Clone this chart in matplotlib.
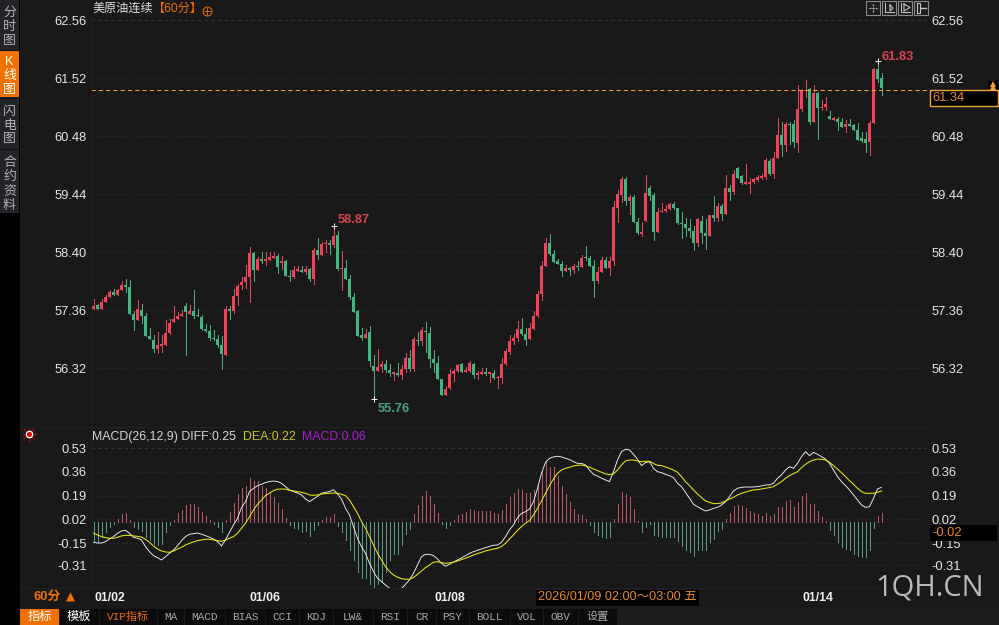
import numpy as np
import matplotlib
matplotlib.use('Agg')
import matplotlib.pyplot as plt
from matplotlib.patches import Rectangle

opens = [57.38,57.45,57.38,57.51,57.59,57.68,57.63,57.72,57.81,57.78,
         57.30,57.19,57.37,57.26,56.90,56.83,56.67,56.72,56.74,56.95,
         57.15,57.20,57.26,57.44,57.29,57.35,57.26,57.24,57.02,56.99,
         56.86,56.85,56.74,56.56,57.38,57.35,57.62,57.81,57.87,57.96,
         58.39,58.08,58.28,58.24,58.26,58.30,58.33,58.21,58.24,57.98,
         57.96,58.07,58.08,58.05,58.10,57.92,58.44,58.35,58.55,58.57,
         58.53,58.71,58.10,58.12,57.92,57.60,57.35,56.92,56.86,56.97,
         56.36,56.27,56.34,56.40,56.29,56.22,56.24,56.20,56.31,56.51,
         56.31,56.83,56.81,56.99,56.95,56.49,56.42,56.13,55.84,55.97,
         56.22,56.27,56.40,56.25,56.27,56.40,56.20,56.22,56.25,56.22,
         56.24,56.15,56.15,56.40,56.61,56.81,56.86,57.03,56.94,56.85,
         57.03,57.26,57.65,58.15,58.57,58.37,58.24,58.19,58.07,58.12,
         58.08,58.15,58.14,58.32,58.30,58.15,57.89,58.05,58.26,58.12,
         58.24,59.19,59.43,59.71,59.32,59.39,58.94,58.73,58.96,59.55,
         59.43,58.76,59.12,59.14,59.18,59.27,59.19,58.93,58.91,58.84,
         58.78,58.57,58.96,58.75,58.69,59.07,59.02,59.23,59.09,59.55,
         59.48,59.91,59.77,59.63,59.63,59.66,59.70,59.73,59.75,60.04,
         59.80,60.09,60.50,60.32,60.70,60.70,60.36,60.97,61.30,61.33,
         60.74,61.26,60.99,61.01,60.84,60.77,60.79,60.74,60.65,60.70,
         60.68,60.59,60.45,60.43,60.38,60.72,61.69,61.53]
closes = [57.44,57.38,57.51,57.59,57.69,57.63,57.73,57.82,57.78,57.30,
          57.19,57.38,57.26,56.90,56.85,56.67,56.74,56.76,56.95,57.13,
          57.20,57.26,57.29,57.33,57.35,57.26,57.25,57.02,56.99,56.86,
          56.85,56.74,56.58,57.38,57.35,57.62,57.80,57.87,57.96,58.39,
          58.08,58.28,58.24,58.28,58.32,58.33,58.14,58.24,57.98,57.96,
          58.08,58.10,58.05,58.10,57.92,58.44,58.35,58.55,58.57,58.53,
          58.69,58.10,58.12,57.92,57.60,57.33,56.90,56.86,56.93,56.45,
          56.27,56.34,56.40,56.29,56.24,56.25,56.20,56.31,56.51,56.31,
          56.85,56.81,57.01,56.97,56.49,56.42,56.13,55.84,55.95,56.22,
          56.27,56.38,56.25,56.29,56.41,56.20,56.24,56.25,56.22,56.25,
          56.15,56.16,56.40,56.63,56.81,56.87,57.03,56.94,56.83,57.04,
          57.26,57.65,58.15,58.57,58.37,58.23,58.19,58.07,58.12,58.08,
          58.15,58.14,58.30,58.30,58.15,57.89,58.05,58.26,58.12,58.24,
          59.21,59.45,59.71,59.32,59.39,58.94,58.75,58.76,59.46,59.41,
          58.76,59.12,59.14,59.18,59.27,59.19,58.93,58.91,58.84,58.78,
          58.57,58.99,58.75,58.69,59.07,59.02,59.23,59.09,59.55,59.48,
          59.80,59.73,59.64,59.66,59.66,59.72,59.75,59.77,60.06,59.80,
          60.09,60.50,60.32,60.70,60.68,60.38,60.97,61.31,61.32,60.74,
          61.26,60.99,61.01,61.06,60.79,60.81,60.74,60.65,60.70,60.67,
          60.59,60.41,60.40,60.36,60.72,61.69,61.51,61.34]
highs = [57.56,57.47,57.56,57.63,57.72,57.75,57.74,57.89,57.92,57.90,
         57.34,57.55,57.47,57.31,57.04,56.92,56.97,56.92,57.19,57.20,
         57.44,57.32,57.37,57.49,57.46,57.72,57.38,57.28,57.11,57.10,
         57.01,56.92,56.90,57.44,57.44,57.74,57.83,57.96,58.17,58.50,
         58.41,58.32,58.41,58.41,58.41,58.41,58.37,58.33,58.26,58.08,
         58.15,58.15,58.15,58.15,58.12,58.48,58.66,58.58,58.62,58.62,
         58.87,58.78,58.42,58.26,57.99,57.67,57.37,57.04,57.02,57.08,
         56.56,56.67,56.45,56.47,56.40,56.25,56.41,56.38,56.59,56.65,
         56.88,56.97,57.06,57.15,57.06,56.65,56.54,56.13,56.00,56.31,
         56.31,56.40,56.41,56.34,56.45,56.41,56.27,56.33,56.33,56.25,
         56.29,56.18,56.51,56.67,56.92,56.93,57.17,57.22,57.04,57.13,
         57.35,57.71,58.24,58.66,58.73,58.44,58.28,58.24,58.17,58.14,
         58.19,58.24,58.35,58.51,58.33,58.26,58.14,58.32,58.32,58.32,
         59.32,59.52,59.75,59.75,59.43,59.43,59.01,58.94,59.79,59.59,
         59.46,59.19,59.28,59.25,59.28,59.30,59.19,59.12,59.01,58.99,
         58.87,59.01,59.05,58.99,59.07,59.41,59.28,59.27,59.79,59.61,
         59.88,59.93,59.79,59.98,59.73,59.73,59.79,59.80,60.09,60.07,
         60.20,60.81,60.74,60.74,60.74,60.77,61.40,61.33,61.49,61.35,
         61.40,61.27,61.13,61.18,60.93,60.83,60.83,60.81,60.77,60.79,
         60.70,60.72,60.56,60.56,60.75,61.71,61.83,61.61]
lows = [57.38,57.38,57.38,57.51,57.59,57.63,57.63,57.72,57.69,57.30,
        57.01,57.19,57.14,56.89,56.85,56.61,56.59,56.61,56.74,56.93,
        57.15,57.20,57.26,56.56,57.29,57.23,57.25,57.01,56.97,56.83,
        56.83,56.70,56.31,56.56,57.20,57.31,57.46,57.74,57.76,57.51,
        57.89,58.08,58.21,58.17,58.26,58.30,58.03,58.10,57.98,57.89,
        57.94,58.07,58.05,58.01,57.89,57.83,58.28,58.35,58.41,58.37,
        58.50,58.08,57.72,57.92,57.56,57.33,56.90,56.83,56.86,56.36,
        55.76,56.27,56.25,56.25,56.18,56.11,56.18,56.13,56.25,56.27,
        56.27,56.74,56.74,56.61,56.34,56.25,56.13,55.84,55.84,55.95,
        56.09,56.25,56.25,56.25,56.25,56.15,56.13,56.22,56.20,56.07,
        56.13,55.97,56.06,56.38,56.58,56.76,56.81,56.92,56.74,56.85,
        57.03,57.24,57.55,58.15,58.35,58.23,58.19,57.98,58.07,57.99,
        58.03,58.08,58.14,58.26,58.15,57.60,57.85,58.05,58.12,57.99,
        58.17,58.94,59.30,59.25,59.09,58.94,58.73,58.69,58.96,59.34,
        58.62,58.76,59.12,59.12,59.16,59.18,58.91,58.66,58.69,58.67,
        58.44,58.51,58.57,58.46,58.69,58.96,58.96,58.98,59.09,59.34,
        59.45,59.73,59.63,59.63,59.46,59.64,59.68,59.71,59.71,59.79,
        59.73,60.09,60.13,60.22,60.34,60.29,60.20,60.93,61.19,60.70,
        60.74,60.43,60.95,60.95,60.79,60.77,60.59,60.65,60.56,60.67,
        60.59,60.41,60.38,60.20,60.15,60.72,61.45,61.22]

macd = [-0.142,-0.142,-0.106,-0.070,-0.034,-0.010,0.019,0.055,0.065,0.014,
        -0.038,-0.046,-0.065,-0.106,-0.130,-0.154,-0.166,-0.154,-0.070,-0.022,
        0.014,0.062,0.086,0.122,0.130,0.127,0.110,0.074,0.046,0.014,
        -0.014,-0.034,-0.074,0.014,0.074,0.139,0.199,0.242,0.259,0.319,
        0.295,0.295,0.259,0.242,0.211,0.182,0.134,0.094,0.031,-0.022,
        -0.041,-0.050,-0.070,-0.065,-0.098,-0.058,-0.022,0.014,0.038,0.038,
        0.058,-0.029,-0.070,-0.130,-0.202,-0.274,-0.358,-0.401,-0.401,-0.442,
        -0.466,-0.442,-0.430,-0.358,-0.274,-0.226,-0.226,-0.166,-0.086,-0.050,
        0.055,0.122,0.190,0.223,0.187,0.130,0.062,-0.012,-0.041,-0.022,
        0.014,0.050,0.055,0.070,0.094,0.086,0.079,0.079,0.079,0.079,
        0.065,0.055,0.089,0.130,0.182,0.206,0.238,0.230,0.206,0.206,
        0.228,0.271,0.367,0.439,0.398,0.398,0.334,0.259,0.202,0.146,
        0.094,0.055,0.050,0.022,-0.022,-0.074,-0.094,-0.106,-0.113,-0.106,
        0.026,0.130,0.214,0.202,0.178,0.094,0.005,-0.070,-0.034,-0.014,
        -0.094,-0.101,-0.106,-0.106,-0.106,-0.106,-0.134,-0.170,-0.197,-0.214,
        -0.242,-0.202,-0.202,-0.202,-0.146,-0.118,-0.062,-0.046,0.024,0.062,
        0.115,0.122,0.118,0.098,0.079,0.062,0.055,0.046,0.065,0.046,
        0.060,0.108,0.108,0.151,0.158,0.108,0.142,0.187,0.206,0.127,
        0.130,0.079,0.038,0.007,-0.058,-0.094,-0.142,-0.178,-0.190,-0.202,
        -0.226,-0.242,-0.250,-0.250,-0.202,-0.041,0.046,0.065]
diff = [-0.145,-0.150,-0.150,-0.140,-0.121,-0.104,-0.080,-0.063,-0.059,-0.080,
        -0.109,-0.116,-0.128,-0.176,-0.212,-0.241,-0.255,-0.272,-0.248,-0.224,
        -0.200,-0.169,-0.133,-0.104,-0.087,-0.083,-0.078,-0.087,-0.097,-0.109,
        -0.121,-0.140,-0.171,-0.128,-0.073,-0.020,0.027,0.104,0.147,0.219,
        0.243,0.262,0.272,0.284,0.291,0.295,0.291,0.279,0.255,0.231,
        0.219,0.209,0.195,0.166,0.147,0.166,0.185,0.207,0.214,0.219,
        0.233,0.202,0.166,0.099,0.051,-0.032,-0.116,-0.176,-0.224,-0.296,
        -0.355,-0.403,-0.427,-0.451,-0.475,-0.477,-0.477,-0.477,-0.446,-0.415,
        -0.367,-0.308,-0.248,-0.231,-0.231,-0.241,-0.264,-0.296,-0.317,-0.303,
        -0.286,-0.272,-0.257,-0.241,-0.224,-0.212,-0.202,-0.193,-0.183,-0.174,
        -0.166,-0.164,-0.145,-0.104,-0.056,-0.020,0.032,0.063,0.075,0.094,
        0.147,0.243,0.351,0.429,0.458,0.468,0.473,0.468,0.458,0.449,
        0.434,0.422,0.422,0.410,0.374,0.343,0.331,0.315,0.303,0.291,
        0.362,0.446,0.506,0.523,0.518,0.487,0.451,0.406,0.427,0.434,
        0.386,0.362,0.355,0.343,0.334,0.319,0.279,0.255,0.214,0.171,
        0.128,0.111,0.094,0.080,0.087,0.099,0.106,0.123,0.147,0.183,
        0.224,0.243,0.250,0.252,0.252,0.252,0.255,0.260,0.267,0.267,
        0.279,0.315,0.339,0.374,0.398,0.386,0.422,0.470,0.506,0.477,
        0.501,0.487,0.470,0.453,0.422,0.374,0.327,0.291,0.262,0.231,
        0.195,0.159,0.123,0.106,0.111,0.171,0.238,0.250]
dea = [-0.080,-0.092,-0.104,-0.111,-0.116,-0.116,-0.109,-0.099,-0.095,-0.095,
       -0.099,-0.102,-0.107,-0.123,-0.145,-0.171,-0.193,-0.207,-0.214,-0.217,
       -0.207,-0.193,-0.181,-0.164,-0.152,-0.142,-0.133,-0.128,-0.123,-0.123,
       -0.128,-0.133,-0.138,-0.128,-0.116,-0.104,-0.080,-0.044,-0.008,0.039,
       0.087,0.128,0.159,0.190,0.209,0.226,0.236,0.238,0.236,0.228,
       0.224,0.219,0.214,0.207,0.195,0.193,0.195,0.202,0.205,0.207,
       0.209,0.207,0.200,0.190,0.159,0.111,0.063,0.004,-0.044,-0.104,
       -0.164,-0.224,-0.272,-0.320,-0.355,-0.379,-0.396,-0.406,-0.410,-0.410,
       -0.398,-0.375,-0.351,-0.327,-0.308,-0.288,-0.284,-0.291,-0.296,-0.293,
       -0.288,-0.279,-0.269,-0.260,-0.248,-0.236,-0.226,-0.217,-0.207,-0.200,
       -0.193,-0.188,-0.176,-0.152,-0.121,-0.092,-0.059,-0.032,-0.008,0.011,
       0.051,0.099,0.152,0.207,0.262,0.310,0.351,0.374,0.386,0.394,
       0.403,0.408,0.410,0.403,0.394,0.382,0.370,0.358,0.346,0.341,
       0.346,0.374,0.410,0.439,0.446,0.446,0.439,0.434,0.437,0.437,
       0.420,0.408,0.406,0.396,0.386,0.374,0.358,0.327,0.291,0.262,
       0.231,0.202,0.176,0.152,0.142,0.133,0.133,0.138,0.152,0.166,
       0.178,0.195,0.207,0.216,0.224,0.231,0.233,0.238,0.243,0.248,
       0.255,0.272,0.291,0.315,0.334,0.348,0.362,0.391,0.415,0.434,
       0.446,0.453,0.451,0.446,0.429,0.406,0.382,0.355,0.327,0.298,
       0.272,0.243,0.219,0.207,0.207,0.207,0.214,0.224]

price_ticks = [62.56, 61.52, 60.48, 59.44, 58.40, 57.36, 56.32]
macd_ticks = [0.53, 0.36, 0.19, 0.02, -0.15, -0.31]
date_labels = ['01/02', '01/06', '01/08', '01/14']
date_pos = [4, 43, 89, 181]
last_price = 61.34
last_macd = -0.02
tab_names = ['VIP指标', 'MA', 'MACD', 'BIAS', 'CCI', 'KDJ', 'LW&', 'RSI', 'CR', 'PSY', 'BOLL', 'VOL', 'OBV', '设置']

W, H = 999, 625
BG = '#191919'
RED = '#ee4358'
GREEN = '#43b57f'
ORANGE = '#f07000'
CJK = ['Liberation Sans', 'Noto Sans CJK SC', 'DejaVu Sans']
plt.rcParams['font.family'] = CJK


def box(left, top, right, bottom):
    return [left / W, 1 - bottom / H, (right - left) / W, (bottom - top) / H]


fig = plt.figure(figsize=(W / 100, H / 100), dpi=100, facecolor=BG)
x = np.arange(len(opens))
xlim = ((91 - 93.5) / 4, (927 - 93.5) / 4)

# price panel
ax = fig.add_axes(box(91, 0, 927, 420), facecolor=BG)
px = 1.04 / 57.97
ax.set_xlim(xlim)
ax.set_ylim(58.40 - (420 - 252.3) * px, 58.40 + 252.3 * px)
ax.set_yticks(price_ticks)
ax.set_yticklabels([f'{p:.2f}' for p in price_ticks], fontsize=9.3, color='#e6e6e6')
ax.set_xticks([])
ax.tick_params(axis='y', length=0, pad=3, labelleft=True, labelright=True)
for s in ax.spines.values():
    s.set_visible(False)
for p in price_ticks:
    ls = (0, (3, 3)) if p == price_ticks[0] else (0, (1, 3))
    ax.axhline(p, color='#343434', lw=0.8, ls=ls, zorder=1)

o = np.array(opens)
c = np.array(closes)
colors = [RED if c[i] >= o[i] else GREEN for i in x]
ax.vlines(x, lows, highs, colors=colors, lw=0.72, antialiased=False, zorder=2)
ax.bar(x, np.maximum(np.abs(c - o), px), bottom=np.minimum(o, c), width=0.75, color=colors, lw=0, zorder=3)

ax.axhline(last_price - 0.02, color='#f2a33c', lw=0.75, ls=(0, (4, 3)), zorder=4)

# marks on the extremes
hi = int(np.argmax(highs[:100]))
lo = int(np.argmin(lows))
top = int(np.argmax(highs))
for i, yv in [(hi, highs[hi]), (lo, lows[lo]), (top, highs[top])]:
    ax.plot(i, yv, marker='+', color='white', ms=5, mew=0.7, zorder=5)
ax.annotate(f'{highs[hi]:.2f}', (hi, highs[hi]), xytext=(3, 2), textcoords='offset points',
            color='#d9434f', fontsize=9.3, fontweight='bold')
ax.annotate(f'{lows[lo]:.2f}', (lo, lows[lo]), xytext=(3, -9), textcoords='offset points',
            color='#4aa57e', fontsize=9.3, fontweight='bold')
ax.annotate(f'{highs[top]:.2f}', (top, highs[top]), xytext=(3, 0.5), textcoords='offset points',
            color='#d9434f', fontsize=9.3, fontweight='bold')

# macd panel
ax2 = fig.add_axes(box(91, 428, 927, 590), facecolor=BG)
vpx = 0.84 / 117.0
ax2.set_xlim(xlim)
ax2.set_ylim(0.53 - (590 - 448.3) * vpx, 0.53 + (448.3 - 428) * vpx)
ax2.set_yticks(macd_ticks)
ax2.set_yticklabels([f'{v:.2f}' for v in macd_ticks], fontsize=9.3, color='#e6e6e6')
ax2.tick_params(axis='y', length=0, pad=3, labelleft=True, labelright=True)
ax2.set_xticks(date_pos)
ax2.set_xticklabels(date_labels, fontsize=8.8, fontweight='bold', color='#f0f0f0')
ax2.tick_params(axis='x', length=0, pad=1.5)
for s in ax2.spines.values():
    s.set_visible(False)
for v in macd_ticks:
    ls = (0, (3, 3)) if v == macd_ticks[0] else (0, (1, 3))
    ax2.axhline(v, color='#343434', lw=0.8, ls=ls, zorder=1)

m = np.array(macd)
ax2.vlines(x, 0, m, colors=['#c25563' if v >= 0 else '#569c80' for v in m], lw=0.72,
           antialiased=False, zorder=2)
ax2.plot(x, diff, color='#f2f2f2', lw=0.65, zorder=3)
ax2.plot(x, dea, color='#e8e810', lw=0.75, zorder=4)

# everything around the panels, placed in pixels
ov = fig.add_axes([0, 0, 1, 1], zorder=5)
ov.set_xlim(0, W)
ov.set_ylim(H, 0)
ov.axis('off')
ov.patch.set_alpha(0)


def rect(left, top, right, bottom, fc, ec='none', lw=0, z=1):
    ov.add_patch(Rectangle((left, top), right - left, bottom - top, fc=fc, ec=ec, lw=lw, zorder=z))


def label(xp, yp, s, color='#e0e0e0', size=9.3, ha='left', fam=CJK, weight='normal'):
    ov.text(xp, yp, s, color=color, fontsize=size, ha=ha, va='center', family=fam,
            fontweight=weight, zorder=6)


# left side bar
rect(0, 0, 20, H, '#000000')
rect(0, 0, 19, 213, '#22242a')
rect(0, 51, 19, 97, '#f07000')
for yp in (50, 98, 149):
    ov.plot([0, 19], [yp, yp], color='#111111', lw=0.8)
for yp, ch, col in [(13, '分', '#b4b4b4'), (27, '时', '#b4b4b4'), (41, '图', '#b4b4b4'),
                    (62, 'K', 'white'), (76, '线', 'white'), (90, '图', 'white'),
                    (112, '闪', '#b4b4b4'), (126, '电', '#b4b4b4'), (139, '图', '#b4b4b4'),
                    (163, '合', '#b4b4b4'), (177, '约', '#b4b4b4'), (192, '资', '#b4b4b4'),
                    (206, '料', '#b4b4b4')]:
    label(9.5, yp, ch, color=col, size=9.3, ha='center')

# title row
label(92, 9, '美原油连续', color='#dedede', size=8.7)
label(153, 9, '【60分】', color=ORANGE, size=8.7)
ov.plot(207, 11, marker='o', ms=6.5, mfc='none', mec=ORANGE, mew=0.7)
ov.plot([203.5, 210.5], [11, 11], color=ORANGE, lw=0.6)
ov.plot([207, 207], [7.5, 14.5], color=ORANGE, lw=0.6)

# tool buttons top right
for left in (866, 882, 898, 914):
    rect(left, 1, left + 14, 15, '#1c1c1c', ec='#8a8a8a', lw=0.8)
ov.plot([869, 877], [8, 8], color='#c0c0c0', lw=0.9, ls=(0, (1.5, 1)), zorder=3)
ov.plot([873, 873], [4, 12], color='#c0c0c0', lw=0.9, ls=(0, (1.5, 1)), zorder=3)
for left in (882, 898):
    ov.plot([left + 3, left + 3, left + 12], [3, 12, 12], color='#c0c0c0', lw=0.8, zorder=3)
ov.plot([890, 893, 890, 890], [5, 8, 11, 5], color='#c0c0c0', lw=0.8, zorder=3)
ov.plot([904, 904, 910, 904], [4, 11, 7.5, 4], color='#c0c0c0', lw=0.8, zorder=3)
ov.plot([917, 917, 920, 920, 917], [3, 13, 13, 3, 3], color='#c0c0c0', lw=0.8, zorder=3)
ov.plot([921, 926], [8, 8], color='#c0c0c0', lw=1.0, zorder=3)

# last price tags
rect(929.5, 89.5, 998, 106, '#000000', ec='#f2a33c', lw=1, z=3)
label(932, 98, f'{last_price:.2f}', color='#e8892b', size=9.3)
rect(988, 81, 998, 89, '#000000', z=3)
ov.plot([993, 993], [84, 87], ls='none', marker='^', ms=4.5, color='#f2a33c', mew=0, zorder=4)
rect(930, 525, 997, 541, '#000000', z=3)
label(932, 533, f'{last_macd:.2f}', color='#e8892b', size=9.3)

# macd header
label(92, 437, 'MACD(26,12,9) DIFF:0.25', color='#d4d4d4', size=8.9)
label(243, 437, 'DEA:0.22', color='#c8c81e', size=8.9)
label(302, 437, 'MACD:0.06', color='#a81fd0', size=8.9)
ov.plot(29, 434, marker='o', ms=4.6, mfc='#e00000', mec='white', mew=0.9, zorder=4)
for ang in np.arange(0, 360, 45):
    a = np.deg2rad(ang)
    ov.plot([29 + 4.5 * np.cos(a), 29 + 6.5 * np.cos(a)],
            [434 + 4.5 * np.sin(a), 434 + 6.5 * np.sin(a)], color='#e00000', lw=0.7)

# separators
ov.plot([20, 927], [427, 427], color='#222222', lw=0.8)
ov.plot([20, 927], [588, 588], color='#222222', lw=0.8)
ov.plot([91, 91], [0, 588], color='#1e1e1e', lw=0.8)

# period and time stamp
label(34, 597, '60分', color=ORANGE, size=9.3, weight='bold')
label(70, 597, '▲', color=ORANGE, size=8.5, ha='center', fam=['DejaVu Sans'])
rect(536, 590, 699, 606, '#000000')
label(538, 597.5, '2026/01/09 02:00～03:00 五', color='#e8892b', size=9.1)

# tab bar
rect(20, 609, W, H, '#1c1c1c')
rect(20, 609, 59, H, ORANGE)
rect(60, 609, 99, H, '#0c0c0c')
label(39.5, 617, '指标', color='white', size=8.8, ha='center')
label(79, 617, '模板', color='white', size=8.8, ha='center')
edges = [99, 157, 184, 225, 265, 299, 333, 373, 407, 436, 469, 510, 543, 578, 617]
tab_font = ['Liberation Mono', 'Noto Sans CJK SC']
for i, name in enumerate(tab_names):
    rect(edges[i] + 0.5, 609, edges[i + 1] - 0.5, H, '#0c0c0c')
    col = '#f06a10' if i == 0 else '#a8a8a8'
    label((edges[i] + edges[i + 1]) / 2, 617, name, color=col, size=8.0, ha='center', fam=tab_font)

# watermark
label(875, 587.5, '1QH.CN', color='#b9b9b9', size=21, fam=['Open Sans'])

fig.savefig('out.png', dpi=100, facecolor=BG)
